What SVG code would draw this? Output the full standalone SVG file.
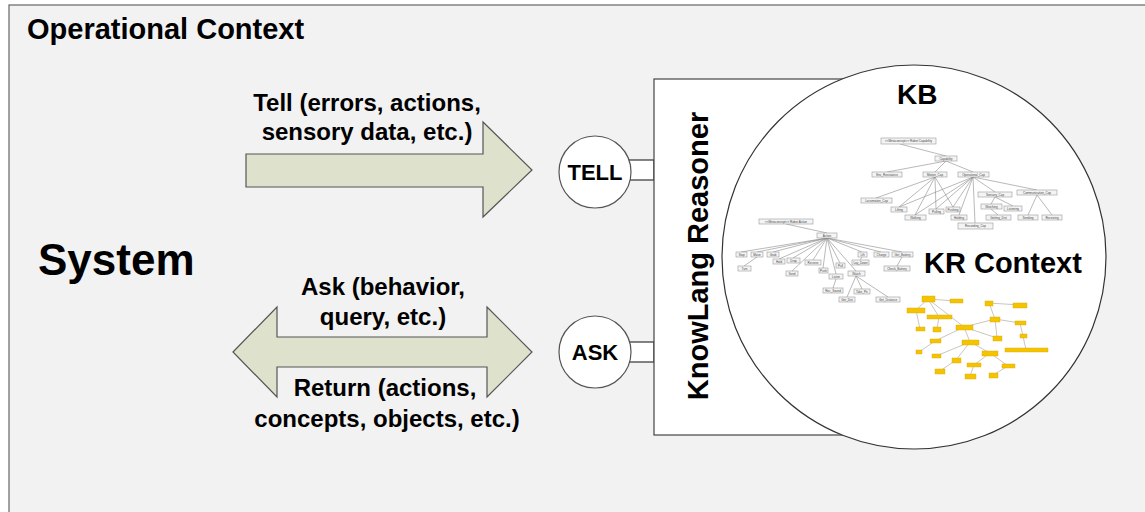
<svg xmlns="http://www.w3.org/2000/svg" width="1145" height="512" viewBox="0 0 1145 512">
<style>
text{font-family:"Liberation Sans",Arial,sans-serif;font-weight:bold;fill:#000}
.arrow{fill:#dee2cc;stroke:#555;stroke-width:1.2}
.lbl{font-size:24px}
.port{fill:#fff;stroke:#333;stroke-width:1.2}
.tn{fill:#f4f4f4;stroke:#999;stroke-width:0.6}
.tt{font-size:3px;font-weight:normal;fill:#444}
.tl{stroke:#8a8a8a;stroke-width:0.6;fill:none}
.yn{fill:#f5c400;stroke:#d9a800;stroke-width:0.4}
.yl{stroke:#a8a090;stroke-width:0.6;fill:none}
</style>
<rect x="9" y="5" width="1160" height="530" fill="#f2f2f2" stroke="#666" stroke-width="1.2"/>
<text x="27" y="39" font-size="29">Operational Context</text>
<g id="system"><text x="38" y="275" font-size="44">System</text></g>
<g id="connectors">
<polygon class="arrow" points="246,154 483,154 483,122 532,170 483,217 483,187 246,187"/>
<text class="lbl" x="367" y="111" text-anchor="middle">Tell (errors, actions,</text>
<text class="lbl" x="367" y="140" text-anchor="middle">sensory data, etc.)</text>
<polygon class="arrow" points="233,352 277,307 277,337 487,337 487,307 532,352 487,397 487,367 277,367 277,397"/>
<text class="lbl" x="383" y="295" text-anchor="middle">Ask (behavior,</text>
<text class="lbl" x="383" y="325" text-anchor="middle">query, etc.)</text>
<text class="lbl" x="385" y="396" text-anchor="middle">Return (actions,</text>
<text class="lbl" x="387" y="427" text-anchor="middle">concepts, objects, etc.)</text>
<rect class="port" x="620" y="160" width="34" height="20"/>
<rect class="port" x="620" y="342" width="34" height="20"/>
</g>
<g id="tell">
<circle cx="595" cy="172" r="36" fill="#fff" stroke="#555" stroke-width="1.2"/>
<text x="595" y="180" font-size="22" text-anchor="middle">TELL</text>
</g>
<g id="ask">
<circle cx="595" cy="352" r="36" fill="#fff" stroke="#555" stroke-width="1.2"/>
<text x="595" y="360" font-size="22" text-anchor="middle">ASK</text>
</g>
<g id="reasoner">
<rect x="654" y="79" width="246" height="356" fill="#fff" stroke="#444" stroke-width="1.2"/>
<text transform="translate(708,256) rotate(-90)" font-size="29" text-anchor="middle">KnowLang Reasoner</text>
</g>
<g id="kb">
<circle cx="914" cy="257" r="192" fill="#fff" stroke="#333" stroke-width="1.2"/>
<text x="897" y="104" font-size="28">KB</text>
<text x="924" y="273" font-size="29">KR Context</text>
<g>
<path class="tl" d="M900 144L946 156M946 161L887 172M946 161L935 172M946 161L973 172M935 177L876 198M935 177L899 207M935 177L915 215M935 177L936 209M935 177L953 207M973 177L899 207M973 177L915 215M973 177L936 209M973 177L953 207M973 177L959 215M973 177L975 223M973 177L995 192M973 177L1037 190M995 197L991 204M995 197L1013 206M991 209L998 215M1037 195L1028 215M1037 195L1052 215"/>
<rect class="tn" x="881" y="138" width="55" height="6"/><text class="tt" x="908.5" y="142.2" text-anchor="middle">&lt;&lt;Metaconcept&gt;&gt; Robot Capability</text>
<rect class="tn" x="935" y="156" width="22" height="5"/><text class="tt" x="946" y="159.6" text-anchor="middle">Capability</text>
<rect class="tn" x="872" y="172" width="30" height="5"/><text class="tt" x="887" y="175.6" text-anchor="middle">Env_Resistance</text>
<rect class="tn" x="923" y="172" width="24" height="5"/><text class="tt" x="935" y="175.6" text-anchor="middle">Motion_Cap</text>
<rect class="tn" x="958" y="172" width="31" height="5"/><text class="tt" x="973.5" y="175.6" text-anchor="middle">Operational_Cap</text>
<rect class="tn" x="861" y="198" width="31" height="5"/><text class="tt" x="876.5" y="201.6" text-anchor="middle">Locomotion_Cap</text>
<rect class="tn" x="891" y="207" width="16" height="5"/><text class="tt" x="899" y="210.6" text-anchor="middle">Lifting</text>
<rect class="tn" x="905" y="215" width="21" height="5"/><text class="tt" x="915.5" y="218.6" text-anchor="middle">Walking</text>
<rect class="tn" x="929" y="209" width="15" height="5"/><text class="tt" x="936.5" y="212.6" text-anchor="middle">Pulling</text>
<rect class="tn" x="946" y="207" width="14" height="5"/><text class="tt" x="953" y="210.6" text-anchor="middle">Pushing</text>
<rect class="tn" x="951" y="215" width="16" height="5"/><text class="tt" x="959" y="218.6" text-anchor="middle">Holding</text>
<rect class="tn" x="958" y="223" width="35" height="6"/><text class="tt" x="975.5" y="227.2" text-anchor="middle">Recording_Cap</text>
<rect class="tn" x="978" y="192" width="34" height="5"/><text class="tt" x="995" y="195.6" text-anchor="middle">Sensory_Cap</text>
<rect class="tn" x="1017" y="190" width="40" height="5"/><text class="tt" x="1037" y="193.6" text-anchor="middle">Communication_Cap</text>
<rect class="tn" x="981" y="204" width="21" height="5"/><text class="tt" x="991.5" y="207.6" text-anchor="middle">Watching</text>
<rect class="tn" x="1004" y="206" width="18" height="5"/><text class="tt" x="1013" y="209.6" text-anchor="middle">Listening</text>
<rect class="tn" x="986" y="215" width="25" height="5"/><text class="tt" x="998.5" y="218.6" text-anchor="middle">Getting_Dist</text>
<rect class="tn" x="1018" y="215" width="20" height="5"/><text class="tt" x="1028" y="218.6" text-anchor="middle">Sending</text>
<rect class="tn" x="1042" y="215" width="20" height="5"/><text class="tt" x="1052" y="218.6" text-anchor="middle">Receiving</text>
</g>
<g>
<path class="tl" d="M786 224L827 233M827 238L741 252M827 238L757 252M827 238L773 252M827 238L779 259M827 238L793 258M827 238L813 260M827 238L792 271M827 238L823 268M827 238L840 263M827 238L836 274M827 238L856 271M827 238L862 252M827 238L881 252M827 238L902 252M757 257L744 266M862 257L860 260M902 257L897 266M836 279L833 288M856 276L847 297M856 276L862 289M856 276L888 297"/>
<rect class="tn" x="759" y="219" width="54" height="5"/><text class="tt" x="786" y="222.6" text-anchor="middle">&lt;&lt;Metaconcept&gt;&gt; Robot Action</text>
<rect class="tn" x="817" y="233" width="20" height="5"/><text class="tt" x="827" y="236.6" text-anchor="middle">Action</text>
<rect class="tn" x="736" y="252" width="11" height="5"/><text class="tt" x="741.5" y="255.6" text-anchor="middle">Stop</text>
<rect class="tn" x="751" y="252" width="12" height="5"/><text class="tt" x="757" y="255.6" text-anchor="middle">Move</text>
<rect class="tn" x="767" y="252" width="12" height="5"/><text class="tt" x="773" y="255.6" text-anchor="middle">Grab</text>
<rect class="tn" x="738" y="266" width="13" height="5"/><text class="tt" x="744.5" y="269.6" text-anchor="middle">Turn</text>
<rect class="tn" x="773" y="259" width="12" height="5"/><text class="tt" x="779" y="262.6" text-anchor="middle">Hold</text>
<rect class="tn" x="787" y="258" width="13" height="5"/><text class="tt" x="793.5" y="261.6" text-anchor="middle">Drop</text>
<rect class="tn" x="805" y="260" width="16" height="5"/><text class="tt" x="813" y="263.6" text-anchor="middle">Receive</text>
<rect class="tn" x="786" y="271" width="12" height="5"/><text class="tt" x="792" y="274.6" text-anchor="middle">Send</text>
<rect class="tn" x="819" y="268" width="9" height="5"/><text class="tt" x="823.5" y="271.6" text-anchor="middle">Push</text>
<rect class="tn" x="836" y="263" width="9" height="5"/><text class="tt" x="840.5" y="266.6" text-anchor="middle">Pull</text>
<rect class="tn" x="829" y="274" width="14" height="5"/><text class="tt" x="836" y="277.6" text-anchor="middle">Listen</text>
<rect class="tn" x="823" y="288" width="20" height="5"/><text class="tt" x="833" y="291.6" text-anchor="middle">Rec_Sound</text>
<rect class="tn" x="848" y="271" width="17" height="5"/><text class="tt" x="856.5" y="274.6" text-anchor="middle">Watch</text>
<rect class="tn" x="839" y="297" width="16" height="5"/><text class="tt" x="847" y="300.6" text-anchor="middle">Get_Dist</text>
<rect class="tn" x="854" y="289" width="16" height="5"/><text class="tt" x="862" y="292.6" text-anchor="middle">Take_Pic</text>
<rect class="tn" x="876" y="297" width="24" height="5"/><text class="tt" x="888" y="300.6" text-anchor="middle">Get_Distance</text>
<rect class="tn" x="858" y="252" width="9" height="5"/><text class="tt" x="862.5" y="255.6" text-anchor="middle">Lift</text>
<rect class="tn" x="852" y="260" width="17" height="5"/><text class="tt" x="860.5" y="263.6" text-anchor="middle">Lay_Down</text>
<rect class="tn" x="874" y="252" width="15" height="5"/><text class="tt" x="881.5" y="255.6" text-anchor="middle">Charge</text>
<rect class="tn" x="892" y="252" width="21" height="5"/><text class="tt" x="902.5" y="255.6" text-anchor="middle">Get_Battery</text>
<rect class="tn" x="884" y="266" width="26" height="5"/><text class="tt" x="897" y="269.6" text-anchor="middle">Check_Battery</text>
</g>
<g>
<path class="yl" d="M928 299L956 301M928 299L916 310M928 299L939 317M928 299L964 327M916 310L920 329M939 317L937 329M964 327L995 319M989 303L1020 305M989 303L995 319M995 319L1020 323M995 319L997 338M1020 323L1023 336M1023 336L1026 350M964 327L935 341M935 341L919 352M964 327L970 342M964 327L997 338M970 342L936 356M970 342L956 360M970 342L990 353M956 360L940 371M990 353L974 365M990 353L1008 366M974 365L970 376M1008 366L993 375"/>
<rect class="yn" x="922" y="296" width="13" height="6"/>
<rect class="yn" x="950" y="299" width="13" height="4"/>
<rect class="yn" x="907" y="308" width="18" height="5"/>
<rect class="yn" x="927" y="315" width="25" height="4"/>
<rect class="yn" x="916" y="327" width="9" height="4"/>
<rect class="yn" x="933" y="327" width="8" height="5"/>
<rect class="yn" x="956" y="325" width="17" height="5"/>
<rect class="yn" x="985" y="301" width="8" height="5"/>
<rect class="yn" x="1013" y="303" width="14" height="5"/>
<rect class="yn" x="990" y="317" width="10" height="5"/>
<rect class="yn" x="1015" y="321" width="11" height="4"/>
<rect class="yn" x="930" y="339" width="11" height="4"/>
<rect class="yn" x="962" y="340" width="17" height="5"/>
<rect class="yn" x="916" y="350" width="6" height="4"/>
<rect class="yn" x="932" y="354" width="9" height="4"/>
<rect class="yn" x="952" y="358" width="9" height="5"/>
<rect class="yn" x="982" y="351" width="16" height="5"/>
<rect class="yn" x="993" y="336" width="9" height="5"/>
<rect class="yn" x="1020" y="334" width="7" height="4"/>
<rect class="yn" x="1005" y="348" width="43" height="4"/>
<rect class="yn" x="935" y="369" width="10" height="5"/>
<rect class="yn" x="967" y="363" width="14" height="4"/>
<rect class="yn" x="965" y="374" width="11" height="5"/>
<rect class="yn" x="1002" y="364" width="13" height="4"/>
<rect class="yn" x="989" y="373" width="9" height="5"/>
</g>
</g>
</svg>
